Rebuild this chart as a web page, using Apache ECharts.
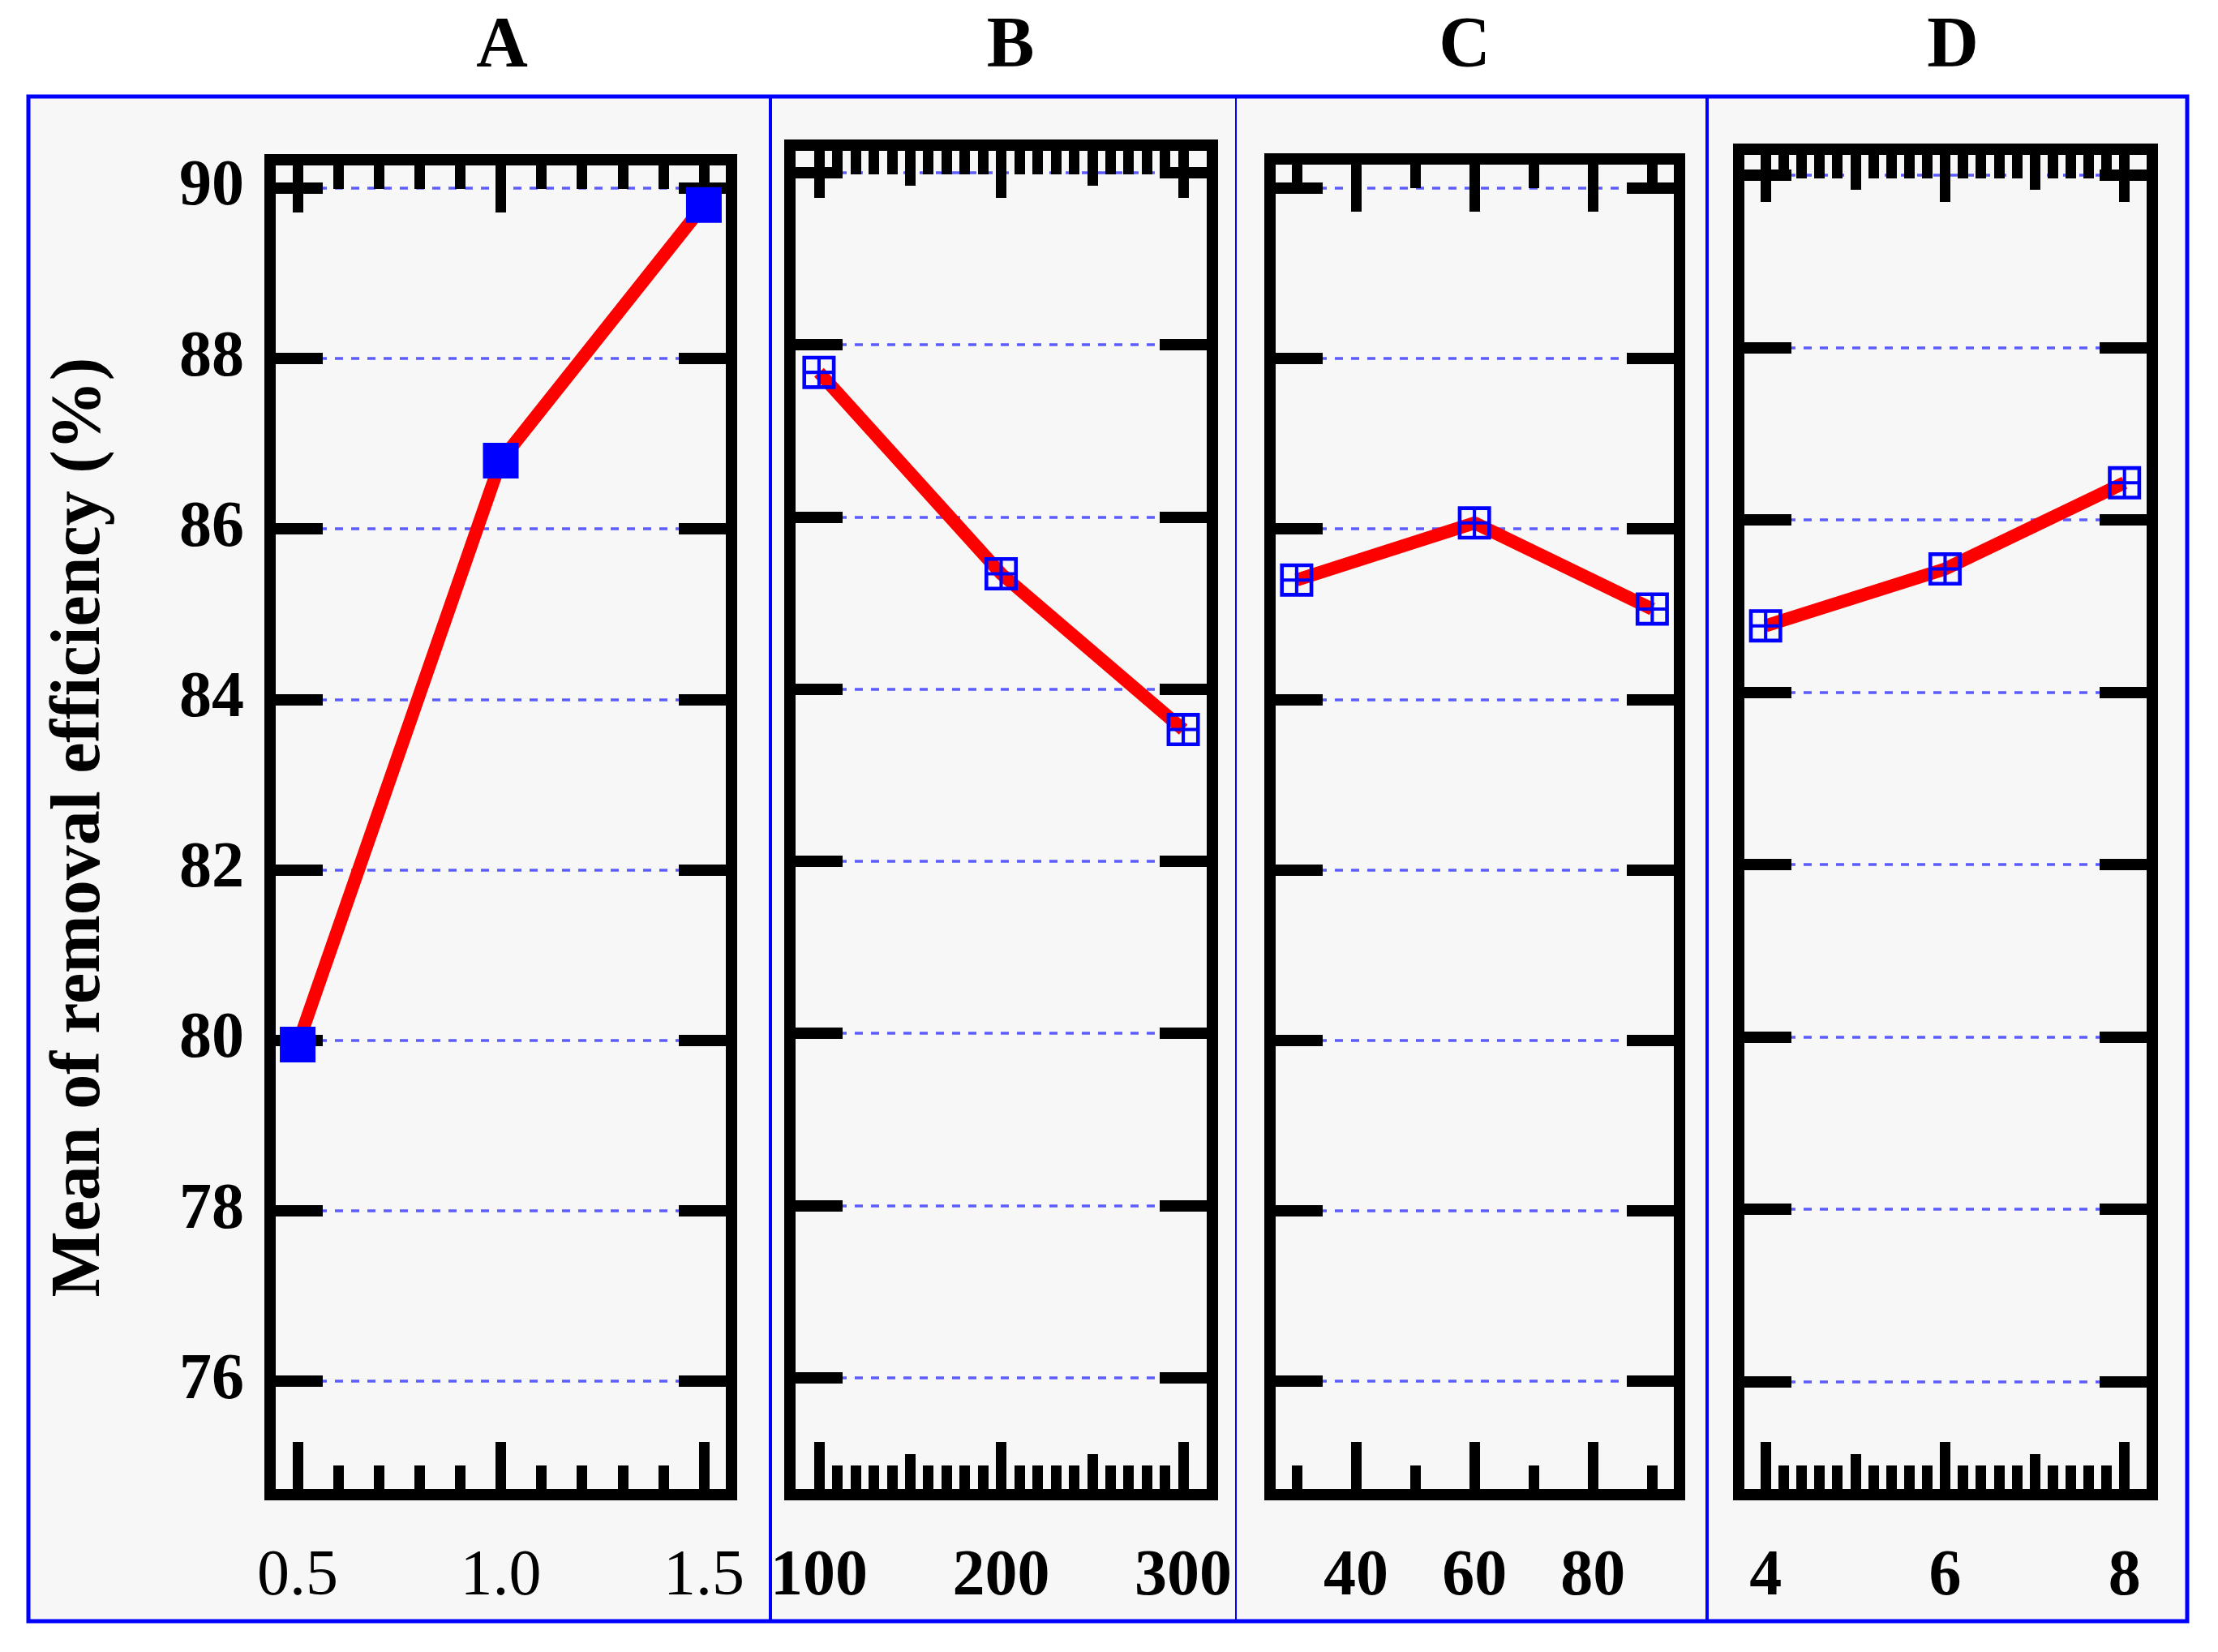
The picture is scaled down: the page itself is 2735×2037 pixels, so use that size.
<!DOCTYPE html>
<html>
<head>
<meta charset="utf-8">
<script src="https://cdn.jsdelivr.net/npm/echarts@6/dist/echarts.min.js"></script>
<style>
    html, body { margin: 0; padding: 0; background: #fff; }
    #chart { width: 2735px; height: 2037px; }
</style>
</head>
<body>
<div id="chart"></div>
<script>
// 各因素水平与对应的平均去除率
const factorA = [0.5, 1.0, 1.5]
const meanA = [79.95, 86.8, 89.8]
const factorB = [100, 200, 300]
const meanB = [87.68, 85.34, 83.53]
const factorC = [30, 60, 90]
const meanC = [85.4, 86.07, 85.06]
const factorD = [4, 6, 8]
const meanD = [84.77, 85.43, 86.43]

// y 轴刻度
const yTicks = [76, 78, 80, 82, 84, 86, 88, 90]

// x 轴刻度（长 / 中 / 短）
const majorA = [0.5, 1.0, 1.5]
const minorA = [0.6, 0.7, 0.8, 0.9, 1.1, 1.2, 1.3, 1.4]
const majorB = [100, 200, 300]
const midB = [150, 250]
const minorB = [110, 120, 130, 140, 160, 170, 180, 190, 210, 220, 230, 240, 260, 270, 280, 290]
const majorC = [40, 60, 80]
const minorC = [30, 50, 70, 90]
const majorD = [4, 6, 8]
const midD = [5, 7]
const minorD = [4.2, 4.4, 4.6, 4.8, 5.2, 5.4, 5.6, 5.8, 6.2, 6.4, 6.6, 6.8, 7.2, 7.4, 7.6, 7.8]

const titles = ['A', 'B', 'C', 'D']
const yName = 'Mean of removal efficiency (%)'

const serif = "'Liberation Serif', 'Times New Roman', serif"

// 空心方块加十字的标记
const plusBox = 'path://M0,0H40V40H0Z M4.5,4.5V18H18V4.5Z M22,4.5V18H35.5V4.5Z M4.5,22V35.5H18V22Z M22,22V35.5H35.5V22Z'

// 每个小图的位置与坐标范围
const panels = [
    { x: factorA, y: meanA, left: 333, top: 197, width: 569, height: 1646, xMin: 0.432, xMax: 1.568, yMin: 74.67, yMax: 90.33,
      major: majorA, mid: [], minor: minorA, digits: 1, weight: 'normal', filled: true, titleX: 619 },
    { x: factorB, y: meanB, left: 974, top: 179, width: 521, height: 1664, xMin: 84, xMax: 316, yMin: 74.64, yMax: 90.32,
      major: majorB, mid: midB, minor: minorB, digits: 0, weight: 'bold', filled: false, titleX: 1246 },
    { x: factorC, y: meanC, left: 1566, top: 196, width: 505, height: 1647, xMin: 25.5, xMax: 94.6, yMin: 74.67, yMax: 90.34,
      major: majorC, mid: [], minor: minorC, digits: 0, weight: 'bold', filled: false, titleX: 1806 },
    { x: factorD, y: meanD, left: 2144, top: 184, width: 510, height: 1659, xMin: 3.70, xMax: 8.31, yMin: 74.69, yMax: 90.30,
      major: majorD, mid: midD, minor: minorD, digits: 0, weight: 'bold', filled: false, titleX: 2408 }
]

const grid = []
const xAxis = []
const yAxis = []
const series = []

panels.forEach((p, i) => {
    grid.push({
        left: p.left, top: p.top, width: p.width, height: p.height,
        show: true, borderColor: '#000', borderWidth: 14, backgroundColor: 'transparent',
        containLabel: false, outerBoundsMode: 'none'
    })

    const tickSets = [
        { values: p.major, len: 65, label: true },
        { values: p.mid, len: 50, label: false },
        { values: p.minor, len: 36, label: false }
    ].filter(t => t.values.length)

    let mainX = 0
    ;['bottom', 'top'].forEach(pos => {
        tickSets.forEach(t => {
            const showLabel = pos === 'bottom' && t.label
            if (showLabel) mainX = xAxis.length
            xAxis.push({
                type: 'value', gridIndex: i, position: pos, min: p.xMin, max: p.xMax, z: 1,
                axisLine: { show: false, onZero: false },
                axisTick: { show: true, inside: true, length: t.len, customValues: t.values, lineStyle: { color: '#000', width: 13 } },
                axisLabel: {
                    show: showLabel, customValues: t.values, margin: 62,
                    formatter: v => Number(v).toFixed(p.digits),
                    fontFamily: serif, fontSize: 80, fontWeight: p.weight, color: '#000'
                },
                splitLine: { show: false }
            })
        })
    })

    // 虚线网格
    const splitY = yAxis.length
    yAxis.push({
        type: 'value', gridIndex: i, position: 'left', min: p.yMin, max: p.yMax, z: 0,
        axisLine: { show: false, onZero: false },
        axisTick: { show: false, customValues: yTicks },
        axisLabel: { show: false, customValues: yTicks },
        splitLine: { show: true, lineStyle: { color: '#5c5cff', width: 3.5, type: [10, 10] } }
    })

    ;['left', 'right'].forEach(pos => {
        const first = i === 0 && pos === 'left'
        yAxis.push({
            type: 'value', gridIndex: i, position: pos, min: p.yMin, max: p.yMax, z: 1,
            name: first ? yName : '',
            nameLocation: 'middle', nameGap: 190,
            nameTextStyle: { fontFamily: serif, fontSize: 86, fontWeight: 'bold', color: '#000' },
            axisLine: { show: false, onZero: false },
            axisTick: { show: true, inside: true, length: 65, customValues: yTicks, lineStyle: { color: '#000', width: 14 } },
            axisLabel: {
                show: first, customValues: yTicks, margin: 32,
                fontFamily: serif, fontSize: 80, fontWeight: 'bold', color: '#000'
            },
            splitLine: { show: false }
        })
    })

    series.push({
        type: 'line', xAxisIndex: mainX, yAxisIndex: splitY, z: 5,
        data: p.x.map((v, k) => [v, p.y[k]]),
        symbol: p.filled ? 'rect' : plusBox,
        symbolSize: p.filled ? 44 : 41,
        symbolKeepAspect: true,
        lineStyle: { color: '#ff0000', width: 16 },
        itemStyle: { color: '#0000ff' },
        animation: false
    })
})

// 蓝色外框与分隔线、标题
const graphic = [
    { type: 'rect', z: -10, shape: { x: 35, y: 119, width: 2662, height: 1880 }, style: { fill: '#f7f7f7', stroke: '#0000ff', lineWidth: 5 } },
    { type: 'line', z: -9, shape: { x1: 950, y1: 119, x2: 950, y2: 1999 }, style: { stroke: '#0000ff', lineWidth: 4 } },
    { type: 'line', z: -9, shape: { x1: 1524, y1: 119, x2: 1524, y2: 1999 }, style: { stroke: '#0000ff', lineWidth: 2 } },
    { type: 'line', z: -9, shape: { x1: 2105, y1: 119, x2: 2105, y2: 2001 }, style: { stroke: '#0000ff', lineWidth: 4 } }
]
panels.forEach((p, i) => {
    graphic.push({
        type: 'text', x: p.titleX, y: 58,
        style: { text: titles[i], align: 'center', verticalAlign: 'middle', font: 'bold 88px ' + serif, fill: '#000' }
    })
})

const chart = echarts.init(document.getElementById('chart'))
chart.setOption({
    backgroundColor: '#fff',
    animation: false,
    grid: grid,
    xAxis: xAxis,
    yAxis: yAxis,
    series: series,
    graphic: graphic
})
</script>
</body>
</html>
